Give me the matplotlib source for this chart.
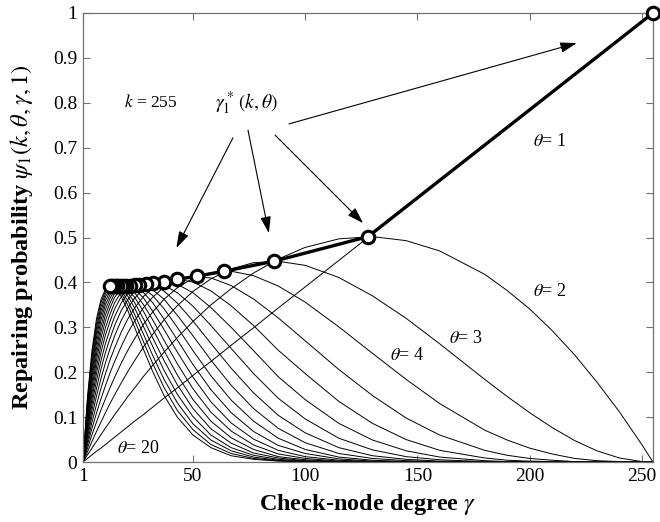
import matplotlib
matplotlib.use('Agg')
import matplotlib.pyplot as plt

plt.rcParams['font.family'] = ['Liberation Serif', 'DejaVu Serif']
plt.rcParams['mathtext.fontset'] = 'stix'

# check-node degree grid (gamma) used for every curve
gamma = [1, 3, 5, 7, 9, 11, 13, 15, 18, 21, 24, 28, 32, 37, 43, 50, 58, 67, 77, 88,
         100, 115, 130, 145, 160, 180, 190, 200, 210, 220, 230, 240, 250, 255]

# repairing probability psi_1(k, theta, gamma, 1), k = 255, one list per theta
psi_t1 = [0, .008, .016, .024, .031, .039, .047, .055, .067, .079, .091, .106, .122, .142, .165, .193,
          .224, .260, .299, .343, .390, .449, .508, .567, .626,
          .705, .744, .783, .823, .862, .902, .941, .980, 1.0]
psi_t2 = [0, .016, .031, .046, .061, .076, .090, .105, .125, .146, .165, .191, .215, .244, .277, .313,
          .350, .386, .421, .452, .478, .497, .502, .493, .470,
          .418, .382, .341, .293, .239, .178, .112, .039, 0]
psi_t3 = [0, .023, .046, .068, .089, .110, .130, .149, .176, .202, .226, .257, .284, .316, .348, .380,
          .408, .430, .444, .447, .438, .411, .370, .320, .263,
          .184, .146, .110, .077, .048, .025, .009, .001, 0]
psi_t4 = [0, .031, .061, .089, .116, .141, .165, .188, .220, .249, .275, .307, .334, .362, .388, .409,
          .422, .425, .415, .392, .356, .301, .242, .184, .130,
          .071, .049, .031, .018, .008, .003, .001, 0, 0]
psi_t5 = [0, .039, .075, .109, .141, .170, .198, .223, .257, .288, .314, .344, .367, .389, .406, .413,
          .410, .393, .363, .321, .270, .206, .148, .098, .060,
          .026, .015, .008, .004, .001, 0, 0, 0, 0]
psi_t6 = [0, .046, .089, .128, .164, .197, .227, .253, .289, .319, .343, .369, .387, .401, .407, .401,
          .381, .348, .304, .249, .197, .135, .086, .050, .026,
          .009, .004, .002, .001, 0, 0, 0, 0, 0]
psi_t7 = [0, .054, .103, .147, .186, .221, .252, .280, .315, .343, .365, .386, .397, .402, .396, .377,
          .344, .300, .248, .190, .139, .086, .049, .025, .011,
          .003, .001, 0, 0, 0, 0, 0, 0, 0]
psi_t8 = [0, .061, .116, .164, .207, .244, .275, .303, .337, .362, .380, .394, .399, .394, .377, .347,
          .304, .253, .197, .142, .096, .053, .027, .012, .005,
          .001, 0, 0, 0, 0, 0, 0, 0, 0]
psi_t9 = [0, .069, .129, .181, .226, .264, .295, .323, .354, .376, .389, .397, .394, .381, .354, .314,
          .264, .209, .154, .104, .065, .032, .014, .006, .002,
          0, 0, 0, 0, 0, 0, 0, 0, 0]
psi_t10 = [0, .076, .141, .197, .244, .283, .313, .340, .368, .385, .394, .394, .384, .363, .327, .281,
           .227, .171, .119, .075, .043, .019, .008, .003, .001,
           0, 0, 0, 0, 0, 0, 0, 0, 0]
psi_t11 = [0, .083, .153, .212, .260, .299, .329, .354, .378, .391, .394, .387, .371, .342, .300, .248,
           .192, .138, .091, .053, .028, .011, .004, .001, 0,
           0, 0, 0, 0, 0, 0, 0, 0, 0]
psi_t12 = [0, .090, .165, .227, .276, .315, .343, .366, .386, .393, .391, .377, .355, .319, .272, .217,
           .161, .110, .068, .037, .019, .007, .002, .001, 0,
           0, 0, 0, 0, 0, 0, 0, 0, 0]
psi_t13 = [0, .098, .177, .240, .290, .328, .354, .375, .390, .392, .385, .365, .336, .296, .245, .189,
           .134, .087, .051, .026, .012, .004, .001, 0, 0,
           0, 0, 0, 0, 0, 0, 0, 0, 0]
psi_t14 = [0, .105, .188, .253, .303, .340, .364, .382, .392, .389, .377, .350, .317, .272, .219, .163,
           .111, .069, .038, .018, .008, .002, .001, 0, 0,
           0, 0, 0, 0, 0, 0, 0, 0, 0]
psi_t15 = [0, .112, .199, .266, .316, .351, .372, .387, .392, .384, .367, .335, .297, .249, .194, .139,
           .091, .054, .028, .012, .005, .001, 0, 0, 0,
           0, 0, 0, 0, 0, 0, 0, 0, 0]
psi_t16 = [0, .119, .210, .278, .327, .360, .379, .390, .390, .377, .355, .318, .277, .227, .172, .119,
           .074, .042, .020, .009, .003, .001, 0, 0, 0,
           0, 0, 0, 0, 0, 0, 0, 0, 0]
psi_t17 = [0, .125, .220, .289, .337, .368, .384, .392, .387, .369, .343, .301, .258, .205, .151, .101,
           .060, .032, .015, .006, .002, 0, 0, 0, 0,
           0, 0, 0, 0, 0, 0, 0, 0, 0]
psi_t18 = [0, .132, .230, .299, .346, .375, .388, .393, .382, .359, .329, .284, .238, .185, .132, .085,
           .049, .025, .011, .004, .001, 0, 0, 0, 0,
           0, 0, 0, 0, 0, 0, 0, 0, 0]
psi_t19 = [0, .139, .240, .309, .355, .381, .390, .392, .376, .349, .315, .267, .220, .167, .115, .072,
           .039, .019, .008, .003, .001, 0, 0, 0, 0,
           0, 0, 0, 0, 0, 0, 0, 0, 0]
psi_t20 = [0, .146, .249, .319, .362, .385, .392, .389, .369, .337, .300, .250, .202, .149, .100, .060,
           .032, .014, .006, .002, 0, 0, 0, 0, 0,
           0, 0, 0, 0, 0, 0, 0, 0, 0]

curves = [psi_t1, psi_t2, psi_t3, psi_t4, psi_t5, psi_t6, psi_t7, psi_t8, psi_t9, psi_t10,
          psi_t11, psi_t12, psi_t13, psi_t14, psi_t15, psi_t16, psi_t17, psi_t18, psi_t19, psi_t20]

# optimal degree gamma_1*(k, theta) and its probability, theta = 1..20
gamma_star = [255, 128, 86, 64, 52, 43, 37, 32, 29, 26, 24, 22, 20, 19, 18, 16, 16, 15, 14, 13]
psi_star = [1.0, .502, .447, .425, .414, .407, .402, .399, .397, .395, .394, .393, .393, .393,
            .392, .392, .392, .393, .391, .392]

fig = plt.figure(figsize=(6.6, 5.22), dpi=100)
ax = fig.add_axes([0.1258, 0.1149, 0.8636, 0.8602])

for psi in curves:
    ax.plot(gamma, psi, color='black', lw=0.7)
ax.plot(gamma_star, psi_star, '-o', color='black', lw=2.4, ms=9, mfc='white', mew=2.2,
        zorder=5, clip_on=False)

ax.set_xlim(1, 255)
ax.set_ylim(0, 1)
ax.set_xticks([1, 50, 100, 150, 200, 250])
ax.set_yticks([0, .1, .2, .3, .4, .5, .6, .7, .8, .9, 1])
ax.set_yticklabels(['0', '0.1', '0.2', '0.3', '0.4', '0.5', '0.6', '0.7', '0.8', '0.9', '1'])
ax.tick_params(direction='in', top=True, right=True, length=5, width=0.8, labelsize=14,
               color='#707070', pad=4)
for s in ax.spines.values():
    s.set_color('#707070')
    s.set_linewidth(0.9)

ax.set_xlabel('Check-node degree $\\gamma$', fontsize=17.5, fontweight='bold', labelpad=5)
ax.set_ylabel('Repairing probability $\\psi_1(k,\\theta,\\gamma,1)$', fontsize=17.5,
              fontweight='bold', labelpad=13)

ax.text(31, 0.80, '$k$ = 255', fontsize=12.5, ha='center', va='center')
ax.text(74, 0.80, '$\\gamma_1^*\\,(k,\\theta)$', fontsize=14, ha='center', va='center')
ax.text(209, 0.713, '$\\theta$= 1', fontsize=13, ha='center', va='center')
ax.text(209, 0.379, '$\\theta$= 2', fontsize=13, ha='center', va='center')
ax.text(171.7, 0.274, '$\\theta$= 3', fontsize=13, ha='center', va='center')
ax.text(145.4, 0.238, '$\\theta$= 4', fontsize=13, ha='center', va='center')
ax.text(25.5, 0.031, '$\\theta$= 20', fontsize=13, ha='center', va='center')

arrows = [((67.8, 0.722), (42.6, 0.477)),
          ((74.5, 0.739), (83.8, 0.51)),
          ((86.6, 0.728), (125.8, 0.532)),
          ((92.8, 0.753), (221, 0.933))]
for tail, head in arrows:
    ax.annotate('', xy=head, xytext=tail,
                arrowprops=dict(arrowstyle='-|>,head_length=1.0,head_width=0.32',
                                color='black', lw=0.8, shrinkA=0, shrinkB=0))

fig.savefig('out.png', dpi=100)
